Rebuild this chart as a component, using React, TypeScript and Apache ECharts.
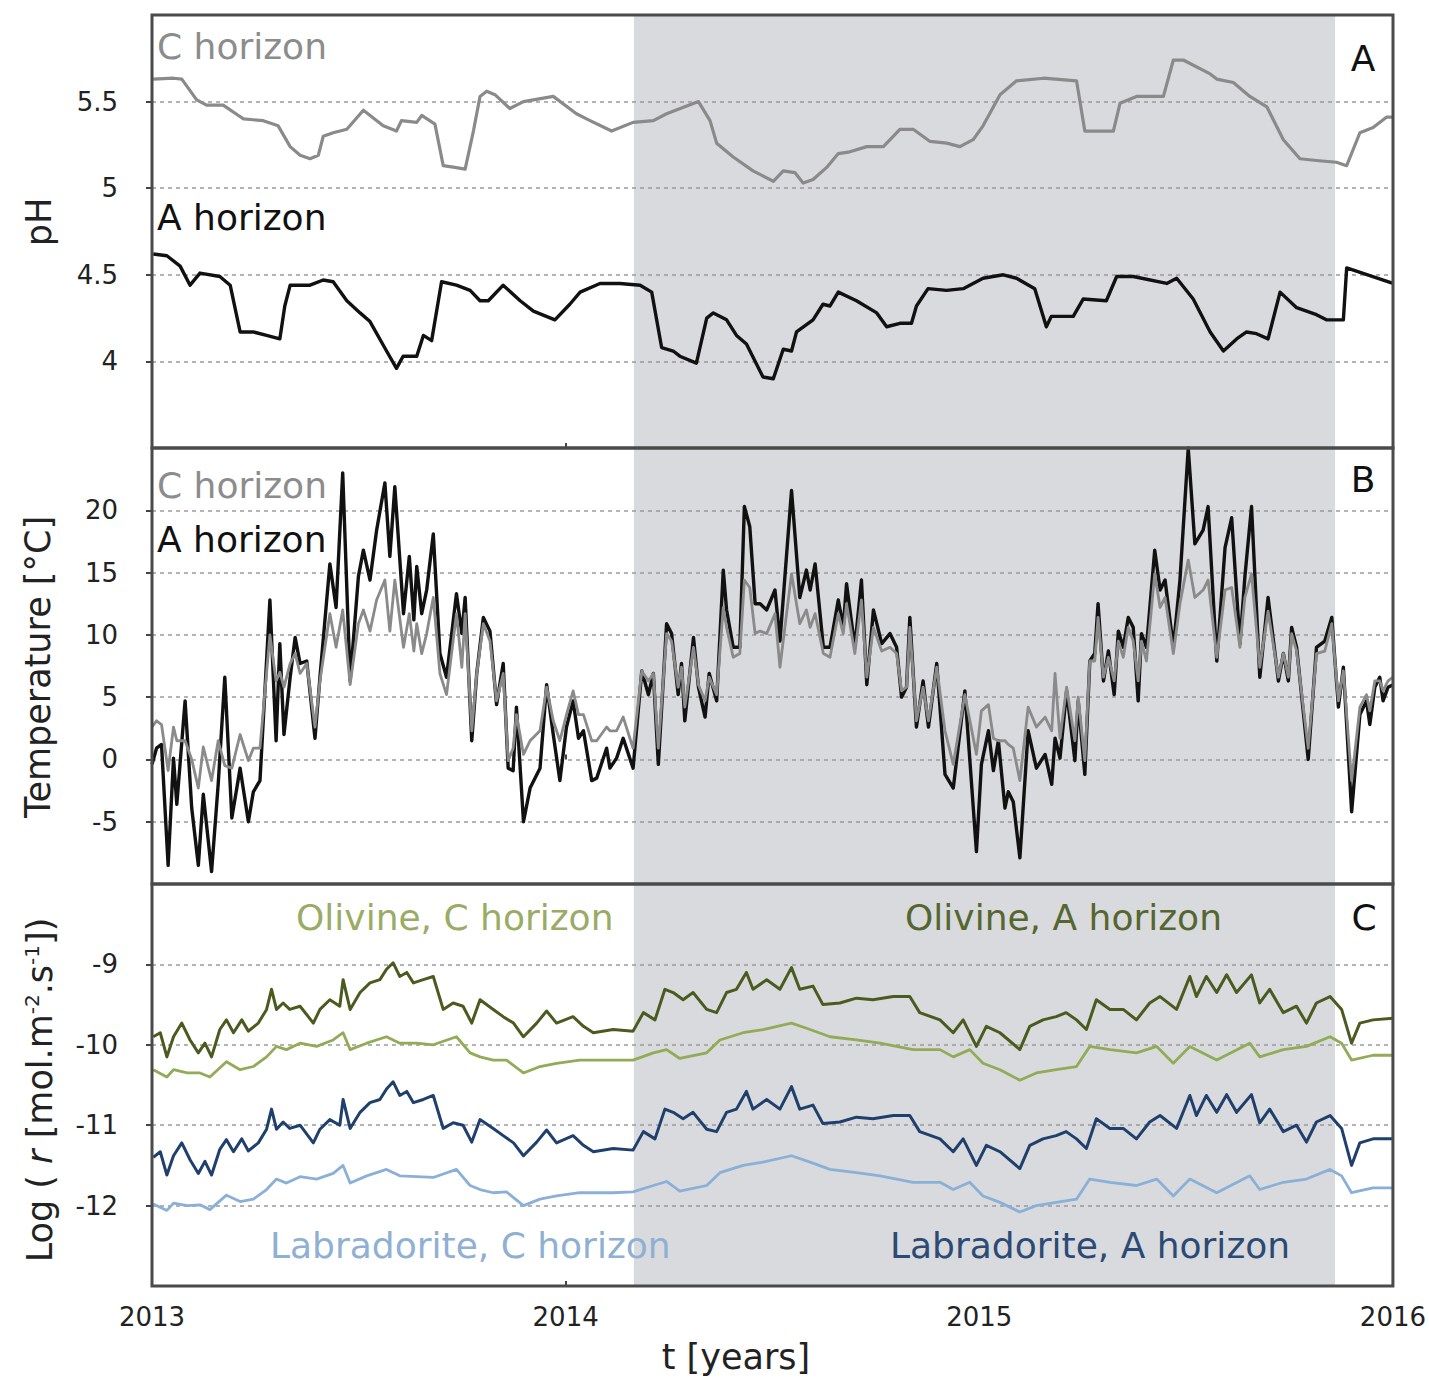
import React, { useEffect, useRef } from "react";
import * as echarts from "echarts";

const FONT = "DejaVu Sans";

// Shaded period (decimal years)
const SHADE_START = 2014.165;
const SHADE_END = 2015.86;

// Panel A: pH, [year, pH]
const phC: number[][] = [
  [2013.003, 5.63], [2013.052, 5.635], [2013.072, 5.63], [2013.108, 5.51], [2013.132, 5.48], [2013.172, 5.48],
  [2013.209, 5.42], [2013.221, 5.40], [2013.269, 5.39], [2013.305, 5.36], [2013.334, 5.24], [2013.358, 5.19],
  [2013.382, 5.17], [2013.402, 5.19], [2013.414, 5.30], [2013.438, 5.32], [2013.471, 5.34], [2013.511, 5.45],
  [2013.559, 5.36], [2013.591, 5.33], [2013.603, 5.39], [2013.640, 5.38], [2013.652, 5.42], [2013.684, 5.37],
  [2013.704, 5.13], [2013.732, 5.12], [2013.757, 5.11], [2013.777, 5.33], [2013.793, 5.53], [2013.809, 5.56],
  [2013.829, 5.54], [2013.865, 5.46], [2013.898, 5.50], [2013.970, 5.53], [2014.026, 5.43], [2014.059, 5.39],
  [2014.111, 5.33], [2014.163, 5.38], [2014.212, 5.39], [2014.244, 5.43], [2014.321, 5.50], [2014.349, 5.39],
  [2014.365, 5.26], [2014.405, 5.18], [2014.453, 5.10], [2014.502, 5.04], [2014.526, 5.10], [2014.554, 5.09],
  [2014.574, 5.03], [2014.598, 5.05], [2014.631, 5.12], [2014.659, 5.20], [2014.687, 5.21], [2014.728, 5.24],
  [2014.768, 5.24], [2014.808, 5.34], [2014.840, 5.34], [2014.881, 5.27], [2014.921, 5.26], [2014.953, 5.24],
  [2014.985, 5.28], [2015.009, 5.36], [2015.050, 5.54], [2015.090, 5.62], [2015.155, 5.635], [2015.235, 5.62],
  [2015.255, 5.33], [2015.283, 5.33], [2015.324, 5.33], [2015.340, 5.49], [2015.380, 5.53], [2015.445, 5.53],
  [2015.469, 5.74], [2015.493, 5.74], [2015.558, 5.66], [2015.574, 5.63], [2015.614, 5.61], [2015.654, 5.53],
  [2015.695, 5.47], [2015.735, 5.28], [2015.775, 5.17], [2015.815, 5.16], [2015.863, 5.15], [2015.888, 5.13],
  [2015.920, 5.32], [2015.952, 5.35], [2015.984, 5.41], [2016.0, 5.41],
];
const phA: number[][] = [
  [2013.003, 4.62], [2013.036, 4.61], [2013.068, 4.55], [2013.092, 4.44], [2013.116, 4.51], [2013.164, 4.49],
  [2013.189, 4.44], [2013.213, 4.17], [2013.245, 4.17], [2013.277, 4.15], [2013.309, 4.13], [2013.321, 4.32],
  [2013.334, 4.44], [2013.382, 4.44], [2013.414, 4.47], [2013.438, 4.46], [2013.471, 4.35], [2013.503, 4.28],
  [2013.527, 4.23], [2013.567, 4.06], [2013.591, 3.96], [2013.607, 4.03], [2013.640, 4.03], [2013.656, 4.15],
  [2013.676, 4.12], [2013.700, 4.46], [2013.736, 4.44], [2013.769, 4.41], [2013.793, 4.35], [2013.813, 4.35],
  [2013.849, 4.44], [2013.890, 4.35], [2013.922, 4.29], [2013.974, 4.24], [2014.010, 4.33], [2014.035, 4.40],
  [2014.083, 4.45], [2014.131, 4.45], [2014.180, 4.44], [2014.208, 4.40], [2014.232, 4.08], [2014.260, 4.06],
  [2014.276, 4.03], [2014.316, 3.99], [2014.341, 4.25], [2014.357, 4.28], [2014.389, 4.24], [2014.413, 4.15],
  [2014.437, 4.10], [2014.477, 3.91], [2014.502, 3.90], [2014.526, 4.07], [2014.546, 4.06], [2014.558, 4.17],
  [2014.598, 4.24], [2014.622, 4.33], [2014.639, 4.32], [2014.659, 4.40], [2014.703, 4.35], [2014.752, 4.28],
  [2014.776, 4.20], [2014.808, 4.22], [2014.836, 4.22], [2014.848, 4.32], [2014.876, 4.42], [2014.921, 4.41],
  [2014.961, 4.42], [2015.009, 4.48], [2015.058, 4.50], [2015.090, 4.48], [2015.134, 4.42], [2015.162, 4.20],
  [2015.174, 4.26], [2015.227, 4.26], [2015.251, 4.36], [2015.307, 4.35], [2015.332, 4.49], [2015.372, 4.49],
  [2015.453, 4.45], [2015.477, 4.48], [2015.517, 4.36], [2015.558, 4.17], [2015.590, 4.06], [2015.622, 4.13],
  [2015.646, 4.17], [2015.670, 4.16], [2015.698, 4.13], [2015.727, 4.40], [2015.767, 4.31], [2015.815, 4.27],
  [2015.839, 4.24], [2015.880, 4.24], [2015.888, 4.54], [2016.0, 4.45],
];

// Panel B: temperature
const tempT: number[] = [
  2013.000, 2013.011, 2013.023, 2013.039, 2013.052, 2013.060, 2013.080, 2013.096, 2013.112, 2013.124,
  2013.144, 2013.160, 2013.176, 2013.193, 2013.213, 2013.233, 2013.245, 2013.261, 2013.285, 2013.300,
  2013.309, 2013.319, 2013.334, 2013.346, 2013.358, 2013.374, 2013.394, 2013.406, 2013.430, 2013.445,
  2013.461, 2013.479, 2013.499, 2013.511, 2013.527, 2013.543, 2013.563, 2013.575, 2013.587, 2013.608,
  2013.622, 2013.633, 2013.640, 2013.652, 2013.664, 2013.680, 2013.696, 2013.712, 2013.736, 2013.749,
  2013.757, 2013.773, 2013.785, 2013.801, 2013.817, 2013.833, 2013.849, 2013.861, 2013.873, 2013.881,
  2013.898, 2013.914, 2013.938, 2013.954, 2013.970,
  2013.986, 2014.002, 2014.018, 2014.031, 2014.043, 2014.063, 2014.075, 2014.099, 2014.107, 2014.123,
  2014.139, 2014.163, 2014.184, 2014.200, 2014.212, 2014.224, 2014.244, 2014.256, 2014.272, 2014.280,
  2014.288, 2014.309, 2014.321, 2014.337, 2014.347, 2014.365, 2014.381, 2014.389, 2014.405, 2014.421,
  2014.432, 2014.445, 2014.458, 2014.470, 2014.486, 2014.506, 2014.518, 2014.546, 2014.566, 2014.582,
  2014.591, 2014.603, 2014.623, 2014.639, 2014.659, 2014.671, 2014.679, 2014.699, 2014.715, 2014.728,
  2014.744, 2014.764, 2014.784, 2014.800, 2014.812, 2014.824, 2014.832, 2014.848, 2014.864, 2014.877,
  2014.897, 2014.917, 2014.937, 2014.965, 2014.993,
  2015.005, 2015.022, 2015.034, 2015.046, 2015.062, 2015.070, 2015.082, 2015.098, 2015.118, 2015.138,
  2015.159, 2015.175, 2015.183, 2015.195, 2015.211, 2015.231, 2015.239, 2015.255, 2015.267, 2015.279,
  2015.287, 2015.300, 2015.312, 2015.326, 2015.336, 2015.348, 2015.360, 2015.372, 2015.384, 2015.392,
  2015.404, 2015.424, 2015.437, 2015.449, 2015.469, 2015.485, 2015.505, 2015.521, 2015.541, 2015.553,
  2015.574, 2015.594, 2015.610, 2015.630, 2015.642, 2015.658, 2015.678, 2015.698, 2015.723, 2015.735,
  2015.747, 2015.755, 2015.767, 2015.795, 2015.815, 2015.835, 2015.852, 2015.868, 2015.880, 2015.900,
  2015.920, 2015.936, 2015.944, 2015.956, 2015.968, 2015.976, 2015.988, 2016.000,
];
const tempA: number[] = [
  -0.4, 0.9, 1.2, -8.5, 0.1, -3.6, 4.7, -3.9, -8.5, -2.8,
  -9.0, -2.0, 6.6, -4.7, -0.7, -5.0, -2.6, -1.7, 12.8, 1.5,
  9.3, 2.0, 6.6, 9.8, 7.7, 7.9, 1.7, 6.6, 15.7, 12.2,
  23.0, 6.3, 14.7, 16.8, 14.4, 18.4, 22.2, 16.3, 21.9, 11.7,
  16.3, 11.2, 15.5, 11.7, 13.6, 18.1, 8.5, 6.6, 13.3, 10.1,
  13.0, 1.5, 6.9, 11.4, 10.3, 4.4, 7.7, -0.7, -0.9, 4.2,
  -5.0, -2.3, -0.7, 6.0, 2.0,
  -1.7, 2.6, 4.7, 1.7, 2.3, -1.7, -1.5, 0.9, -0.7, 0.1,
  1.7, -0.7, 7.1, 5.2, 6.9, -0.4, 10.9, 10.1, 5.2, 7.7,
  3.1, 9.8, 5.8, 3.4, 6.9, 4.7, 15.2, 12.0, 9.0, 9.0,
  20.3, 18.7, 12.5, 12.5, 12.0, 13.6, 9.5, 21.6, 13.0, 15.2,
  13.6, 15.7, 9.0, 9.0, 12.8, 10.6, 14.1, 9.0, 14.4, 6.0,
  12.0, 9.3, 10.1, 9.0, 5.0, 5.8, 11.4, 2.6, 6.3, 2.6,
  7.7, -1.2, -2.3, 5.5, -7.4,
  -0.4, 2.3, -0.9, 1.5, -3.9, -2.6, -3.4, -7.9, 2.3, -0.7,
  0.4, -2.0, 1.7, 0.1, 5.5, -0.1, 4.7, -1.2, 7.9, 8.5,
  12.5, 6.3, 8.7, 5.2, 10.3, 9.0, 11.4, 10.6, 4.7, 10.1,
  9.0, 16.8, 13.6, 14.4, 9.0, 14.4, 25.0, 17.3, 18.4, 20.3,
  7.9, 17.0, 19.4, 9.3, 14.7, 20.3, 6.6, 13.0, 6.3, 8.5,
  6.3, 10.6, 9.0, 0.0, 9.0, 9.5, 11.4, 4.2, 7.4, -4.2,
  3.6, 4.7, 2.8, 5.8, 6.6, 4.7, 5.8, 6.0,
];
const tempC: number[] = [
  2.6, 3.1, 2.8, -0.9, 2.6, 1.5, 1.5, 0.0, -2.3, 1.0,
  -1.7, 1.5, -0.5, -0.7, 2.0, -0.1, 0.9, 0.9, 10.0, 6.3,
  7.0, 5.8, 7.7, 8.5, 6.9, 7.7, 2.6, 6.3, 11.7, 9.0,
  12.0, 6.0, 10.9, 12.0, 10.3, 12.8, 14.4, 10.3, 14.4, 9.0,
  11.7, 8.7, 10.9, 8.5, 10.1, 13.0, 6.9, 5.2, 11.7, 7.4,
  11.7, 2.3, 6.9, 10.9, 9.5, 4.7, 6.9, -0.1, 0.9, 3.6,
  0.4, 1.5, 2.3, 5.8, 3.1,
  1.5, 3.6, 5.5, 3.6, 3.6, 1.5, 1.5, 2.6, 2.3, 2.3,
  3.4, 0.9, 7.1, 6.3, 6.9, 0.9, 10.1, 9.5, 5.8, 7.4,
  4.2, 9.0, 6.0, 4.7, 6.6, 5.2, 12.2, 10.6, 8.2, 8.5,
  14.4, 13.8, 10.1, 10.3, 10.1, 11.7, 7.4, 14.9, 10.9, 12.0,
  10.6, 11.7, 8.5, 8.2, 11.7, 10.1, 12.5, 8.5, 12.8, 6.6,
  10.6, 8.7, 9.0, 8.5, 5.5, 5.8, 10.6, 3.1, 5.8, 3.1,
  7.4, 2.3, -0.4, 5.2, 0.4,
  3.9, 4.4, 1.7, 1.5, 1.5, 1.2, 0.9, -1.7, 4.2, 2.6,
  3.4, 2.3, 6.9, 1.7, 5.8, 1.5, 5.0, -0.1, 7.9, 7.9,
  11.4, 6.6, 8.2, 6.3, 9.5, 8.2, 10.6, 9.5, 6.3, 9.5,
  7.9, 14.9, 12.2, 13.0, 8.5, 12.5, 16.0, 13.0, 13.6, 14.4,
  8.2, 13.6, 13.8, 9.0, 13.0, 14.9, 7.4, 11.9, 6.6, 8.5,
  6.6, 10.1, 8.7, 0.9, 8.5, 8.7, 10.9, 4.7, 7.1, -1.7,
  4.2, 5.2, 3.9, 6.3, 6.3, 5.5, 6.3, 6.6,
];

// Panel C: log dissolution rates
const rateAT: number[] = [
  2013.003, 2013.020, 2013.036, 2013.052, 2013.072, 2013.092, 2013.112, 2013.128, 2013.144, 2013.164,
  2013.180, 2013.197, 2013.217, 2013.233, 2013.257, 2013.277, 2013.289, 2013.301, 2013.317, 2013.333,
  2013.358, 2013.390, 2013.406, 2013.430, 2013.454, 2013.462, 2013.479, 2013.503, 2013.527, 2013.551,
  2013.567, 2013.583, 2013.599, 2013.616, 2013.632, 2013.656, 2013.680, 2013.704, 2013.728, 2013.752,
  2013.773, 2013.793, 2013.825, 2013.849, 2013.874, 2013.898, 2013.930, 2013.954, 2013.978, 2014.018,
  2014.043, 2014.067, 2014.115, 2014.163, 2014.188, 2014.216, 2014.240, 2014.260, 2014.284, 2014.308,
  2014.341, 2014.365, 2014.389, 2014.413, 2014.437, 2014.453, 2014.486, 2014.518, 2014.546, 2014.566,
  2014.598, 2014.622, 2014.663, 2014.703, 2014.743, 2014.792, 2014.832, 2014.856, 2014.905, 2014.937,
  2014.961, 2014.993, 2015.017, 2015.050, 2015.098, 2015.122, 2015.154, 2015.186, 2015.210, 2015.235,
  2015.259, 2015.283, 2015.316, 2015.348, 2015.380, 2015.412, 2015.437, 2015.477, 2015.509, 2015.525,
  2015.549, 2015.574, 2015.598, 2015.622, 2015.658, 2015.678, 2015.702, 2015.735, 2015.767, 2015.791,
  2015.815, 2015.848, 2015.876, 2015.900, 2015.920, 2015.952, 2016.000,
];
const olivineA: number[] = [
  -9.90, -9.85, -10.15, -9.90, -9.73, -9.94, -10.10, -9.98, -10.15, -9.81,
  -9.69, -9.85, -9.69, -9.83, -9.73, -9.56, -9.31, -9.56, -9.48, -9.56,
  -9.52, -9.73, -9.56, -9.44, -9.52, -9.19, -9.56, -9.35, -9.23, -9.19,
  -9.06, -8.98, -9.15, -9.10, -9.23, -9.19, -9.15, -9.56, -9.48, -9.52,
  -9.73, -9.44, -9.56, -9.65, -9.73, -9.90, -9.73, -9.58, -9.73, -9.65,
  -9.77, -9.85, -9.81, -9.83, -9.60, -9.69, -9.31, -9.35, -9.44, -9.35,
  -9.56, -9.60, -9.35, -9.31, -9.10, -9.31, -9.19, -9.31, -9.04, -9.31,
  -9.27, -9.50, -9.48, -9.42, -9.44, -9.40, -9.40, -9.60, -9.69, -9.85,
  -9.69, -10.02, -9.77, -9.85, -10.06, -9.77, -9.69, -9.65, -9.60, -9.69,
  -9.81, -9.44, -9.56, -9.56, -9.69, -9.48, -9.40, -9.56, -9.15, -9.40,
  -9.15, -9.35, -9.13, -9.35, -9.13, -9.48, -9.31, -9.60, -9.52, -9.73,
  -9.48, -9.40, -9.56, -9.98, -9.73, -9.69, -9.67,
];
const labradoriteA: number[] = [
  -11.40, -11.33, -11.62, -11.38, -11.22, -11.43, -11.60, -11.45, -11.62, -11.30,
  -11.18, -11.33, -11.17, -11.32, -11.22, -11.05, -10.80, -11.05, -10.96, -11.04,
  -11.00, -11.22, -11.05, -10.93, -11.00, -10.68, -11.04, -10.84, -10.72, -10.68,
  -10.55, -10.46, -10.63, -10.58, -10.72, -10.68, -10.63, -11.04, -10.97, -11.00,
  -11.21, -10.93, -11.04, -11.13, -11.22, -11.38, -11.21, -11.06, -11.22, -11.13,
  -11.25, -11.33, -11.29, -11.31, -11.08, -11.17, -10.80, -10.84, -10.92, -10.84,
  -11.05, -11.08, -10.84, -10.80, -10.58, -10.80, -10.68, -10.80, -10.52, -10.80,
  -10.75, -10.98, -10.96, -10.90, -10.92, -10.88, -10.88, -11.08, -11.17, -11.33,
  -11.17, -11.50, -11.25, -11.33, -11.54, -11.25, -11.17, -11.13, -11.08, -11.17,
  -11.29, -10.92, -11.04, -11.04, -11.17, -10.96, -10.88, -11.04, -10.63, -10.88,
  -10.63, -10.84, -10.62, -10.84, -10.62, -10.97, -10.80, -11.08, -11.00, -11.21,
  -10.96, -10.88, -11.04, -11.50, -11.22, -11.17, -11.17,
];
const rateCT: number[] = [
  2013.003, 2013.036, 2013.052, 2013.085, 2013.116, 2013.140, 2013.180, 2013.213, 2013.245, 2013.277,
  2013.301, 2013.325, 2013.358, 2013.398, 2013.438, 2013.462, 2013.479, 2013.519, 2013.567, 2013.599,
  2013.640, 2013.680, 2013.736, 2013.769, 2013.793, 2013.825, 2013.857, 2013.898, 2013.938, 2013.978,
  2014.034, 2014.115, 2014.163, 2014.212, 2014.244, 2014.276, 2014.341, 2014.373, 2014.429, 2014.477,
  2014.546, 2014.591, 2014.639, 2014.703, 2014.760, 2014.840, 2014.905, 2014.937, 2014.977, 2015.009,
  2015.050, 2015.098, 2015.138, 2015.186, 2015.235, 2015.267, 2015.316, 2015.380, 2015.429, 2015.469,
  2015.509, 2015.574, 2015.654, 2015.678, 2015.735, 2015.791, 2015.848, 2015.876, 2015.900, 2015.952,
  2016.000,
];
const olivineC: number[] = [
  -10.31, -10.40, -10.31, -10.35, -10.35, -10.40, -10.21, -10.31, -10.27, -10.15,
  -10.02, -10.06, -9.98, -10.02, -9.94, -9.85, -10.06, -9.98, -9.90, -9.98,
  -9.98, -10.00, -9.90, -10.10, -10.15, -10.19, -10.19, -10.35, -10.27, -10.23,
  -10.19, -10.19, -10.19, -10.10, -10.06, -10.17, -10.10, -9.94, -9.85, -9.81,
  -9.73, -9.81, -9.90, -9.94, -9.98, -10.06, -10.06, -10.15, -10.06, -10.23,
  -10.31, -10.44, -10.35, -10.31, -10.27, -10.02, -10.06, -10.10, -10.02, -10.23,
  -10.02, -10.19, -9.98, -10.15, -10.06, -10.02, -9.90, -9.98, -10.19, -10.13,
  -10.13,
];
const labradoriteC: number[] = [
  -11.98, -12.06, -11.97, -12.00, -11.99, -12.05, -11.87, -11.95, -11.92, -11.80,
  -11.67, -11.72, -11.64, -11.67, -11.60, -11.50, -11.72, -11.63, -11.55, -11.63,
  -11.64, -11.65, -11.55, -11.75, -11.80, -11.84, -11.83, -12.00, -11.92, -11.88,
  -11.84, -11.84, -11.83, -11.75, -11.70, -11.82, -11.75, -11.59, -11.50, -11.46,
  -11.38, -11.46, -11.55, -11.59, -11.63, -11.71, -11.71, -11.80, -11.71, -11.88,
  -11.96, -12.08, -12.00, -11.96, -11.92, -11.67, -11.71, -11.75, -11.67, -11.88,
  -11.67, -11.84, -11.63, -11.80, -11.71, -11.67, -11.55, -11.63, -11.84, -11.78,
  -11.78,
];

const zip = (t: number[], v: number[]) => t.map((x, i) => [x, v[i]]);

const COL_OLIV_A = "#4b5b1f";
const COL_OLIV_C = "#93aa57";
const COL_LAB_A = "#1f3f6c";
const COL_LAB_C = "#8ab0d8";

export default function App() {
  const ref = useRef<HTMLDivElement>(null);
  useEffect(() => {
    document.body.style.margin = "0";
    if (!ref.current) return;
    const chart = echarts.init(ref.current, undefined, { renderer: "svg" });

    const grids = [
      { top: 15, height: 433 },
      { top: 448, height: 436 },
      { top: 884, height: 402 },
    ].map((g) => ({
      left: 152,
      right: 36,
      top: g.top,
      height: g.height,
      show: true,
      backgroundColor: "transparent",
      borderColor: "#4a4a4a",
      borderWidth: 3,
      z: 10,
    }));

    const xAxes = [0, 1, 2].map((i) => ({
      type: "value",
      gridIndex: i,
      min: 2013,
      max: 2016,
      interval: 1,
      axisLine: { show: false },
      splitLine: { show: false },
      axisTick: { show: true, inside: true, length: 5, lineStyle: { color: "#444", width: 2 } },
      axisLabel: {
        show: i === 2,
        fontSize: 26,
        fontFamily: FONT,
        color: "#222",
        margin: 18,
        formatter: (v: number) => String(v),
      },
    }));

    const yBase = (i: number, min: number, max: number, interval: number) => ({
      type: "value",
      gridIndex: i,
      min,
      max,
      interval,
      z: 2,
      axisLine: { show: false },
      axisTick: { show: true, length: 6, lineStyle: { color: "#444", width: 2 } },
      axisLabel: {
        fontSize: 26,
        fontFamily: FONT,
        color: "#222",
        margin: 34,
        showMinLabel: false,
        showMaxLabel: false,
        formatter: (v: number) => String(v),
      },
      splitLine: { show: true, lineStyle: { color: "#9a9a9a", type: [4, 4], width: 1.5 } },
    });

    const shade = (i: number) => ({
      type: "line",
      xAxisIndex: i,
      yAxisIndex: i,
      data: [],
      silent: true,
      z: 1,
      markArea: {
        silent: true,
        itemStyle: { color: "#d9dadd" },
        data: [[{ xAxis: SHADE_START }, { xAxis: SHADE_END }]],
      },
    });

    const line = (i: number, data: number[][], color: string, width: number) => ({
      type: "line",
      xAxisIndex: i,
      yAxisIndex: i,
      data,
      showSymbol: false,
      symbol: "none",
      z: 3,
      lineStyle: { color, width, join: "round" },
    });

    const txt = (x: number, y: number, text: string, color: string, size: number, align = "left") => ({
      type: "text",
      x,
      y,
      z: 20,
      style: {
        text,
        fill: color,
        fontSize: size,
        fontFamily: FONT,
        textAlign: align,
        textVerticalAlign: "middle",
      },
    });

    const option = {
      animation: false,
      backgroundColor: "#ffffff",
      grid: grids,
      xAxis: xAxes,
      yAxis: [yBase(0, 3.5, 6, 0.5), yBase(1, -10, 25, 5), yBase(2, -13, -8, 1)],
      series: [
        shade(0),
        shade(1),
        shade(2),
        line(0, phC, "#8a8a8a", 3.2),
        line(0, phA, "#111111", 3.4),
        line(1, zip(tempT, tempA), "#111111", 3.4),
        line(1, zip(tempT, tempC), "#8a8a8a", 2.8),
        line(2, zip(rateAT, olivineA), COL_OLIV_A, 3),
        line(2, zip(rateCT, olivineC), COL_OLIV_C, 2.8),
        line(2, zip(rateAT, labradoriteA), COL_LAB_A, 3),
        line(2, zip(rateCT, labradoriteC), COL_LAB_C, 2.8),
      ],
      graphic: [
        txt(157, 46, "C horizon", "#8c8c8c", 36),
        txt(157, 217, "A horizon", "#111111", 36),
        txt(157, 485, "C horizon", "#8c8c8c", 36),
        txt(157, 539, "A horizon", "#111111", 36),
        txt(296, 917, "Olivine, C horizon", "#9aab66", 36),
        txt(905, 917, "Olivine, A horizon", "#556630", 36),
        txt(270, 1245, "Labradorite, C horizon", "#8fb0d3", 36),
        txt(890, 1245, "Labradorite, A horizon", "#2b4a74", 36),
        txt(1363, 58, "A", "#111111", 36, "center"),
        txt(1363, 479, "B", "#111111", 36, "center"),
        txt(1364, 917, "C", "#111111", 36, "center"),
        txt(736, 1357, "t [years]", "#222222", 35, "center"),
        {
          type: "text",
          x: 39,
          y: 222,
          rotation: Math.PI / 2,
          style: {
            text: "pH",
            fill: "#222",
            fontSize: 35,
            fontFamily: FONT,
            textAlign: "center",
            textVerticalAlign: "middle",
          },
        },
        {
          type: "text",
          x: 38,
          y: 667,
          rotation: Math.PI / 2,
          style: {
            text: "Temperature [°C]",
            fill: "#222",
            fontSize: 35,
            fontFamily: FONT,
            textAlign: "center",
            textVerticalAlign: "middle",
          },
        },
        {
          type: "text",
          x: 40,
          y: 1090,
          rotation: Math.PI / 2,
          style: {
            text: "{a|Log ( }{i|r}{a| [mol.m}{s|-2}{a|.s}{s|-1}{a|])}",
            fill: "#222",
            fontSize: 35,
            fontFamily: FONT,
            textAlign: "center",
            textVerticalAlign: "middle",
            rich: {
              a: { fontSize: 35, fontFamily: FONT, fill: "#222" },
              i: { fontSize: 35, fontFamily: FONT, fontStyle: "italic", fill: "#222" },
              s: { fontSize: 20, fontFamily: FONT, fill: "#222", padding: [0, 0, 16, 0] },
            },
          },
        },
      ],
    };

    chart.setOption(option as any);
    return () => chart.dispose();
  }, []);

  return <div ref={ref} style={{ width: 1429, height: 1379 }} />;
}
